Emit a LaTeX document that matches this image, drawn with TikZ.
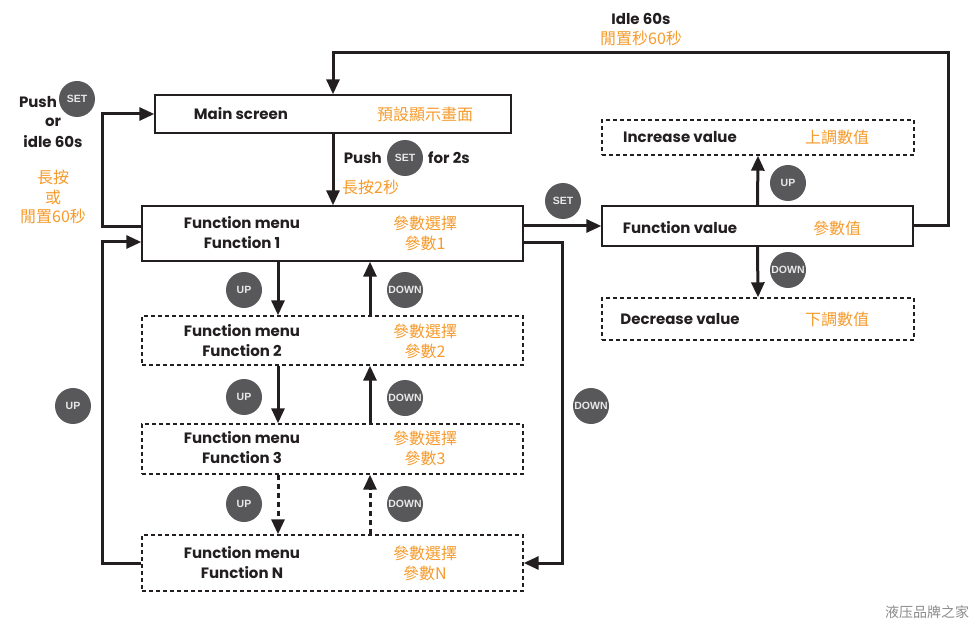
\documentclass[tikz,border=0pt]{standalone}
\usepackage{fontspec}
\setmainfont{Poppins}
\newfontfamily\cjk{Noto Sans CJK TC}
\newfontfamily\btnfont{Liberation Sans}
\usetikzlibrary{arrows.meta}
\definecolor{linec}{HTML}{231F20}
\definecolor{orangec}{HTML}{F59A2B}
\definecolor{btngray}{HTML}{58585A}
\definecolor{btntext}{HTML}{E8E8E8}
\begin{document}
\begin{tikzpicture}[x=1pt,y=-1pt,
  solidbox/.style={draw=linec, line width=1.4pt, inner sep=0pt},
  dashbox/.style={solidbox, dash pattern=on 4pt off 3pt},
  en/.style={font=\bfseries\fontsize{15}{20}\selectfont, text=linec, align=center, inner sep=0pt},
  zh/.style={font=\cjk\fontsize{16}{20}\selectfont, text=orangec, align=center, inner sep=0pt},
  arr/.style={draw=linec, line width=3pt, -{Triangle[length=15pt,width=13pt]}},
  darr/.style={arr, dash pattern=on 5pt off 4pt},
  btn/.style={circle, fill=btngray, text=btntext, minimum size=36pt, inner sep=0pt,
    font=\btnfont\bfseries\fontsize{10.5}{10.5}\selectfont},
  wm/.style={font=\cjk\fontsize{14}{14}\selectfont, text=black!45}
]
\useasboundingbox (0,0) rectangle (980,631);

% boxes
\node[solidbox, minimum width=356pt, minimum height=38pt] (main) at (333,114) {};
\node[solidbox, minimum width=381pt, minimum height=55pt] (f1) at (332.5,233.5) {};
\node[dashbox, minimum width=381pt, minimum height=49pt] (f2) at (332.5,340.5) {};
\node[dashbox, minimum width=381pt, minimum height=50pt] (f3) at (332.5,449) {};
\node[dashbox, minimum width=381pt, minimum height=56pt] (fn) at (332.5,563) {};
\node[solidbox, minimum width=311pt, minimum height=40pt] (fv) at (757.5,226) {};
\node[dashbox, minimum width=312pt, minimum height=35pt] (inc) at (758,137.5) {};
\node[dashbox, minimum width=312pt, minimum height=42pt] (dec) at (758,319) {};

% box texts
\node[en] (tmain) at (241,114) {Main screen};
\node[zh] (zmain) at (425,114) {預設顯示畫面};
\node[en] (tf1) at (242,233) {Function menu\\Function 1};
\node[zh] (zf1) at (425,233) {參數選擇\\參數1};
\node[en] (tf2) at (242,341) {Function menu\\Function 2};
\node[zh] (zf2) at (425,341) {參數選擇\\參數2};
\node[en] (tf3) at (242,448) {Function menu\\Function 3};
\node[zh] (zf3) at (425,448) {參數選擇\\參數3};
\node[en] (tfn) at (242,563) {Function menu\\Function N};
\node[zh] (zfn) at (425,563) {參數選擇\\參數N};
\node[en] (tfv) at (680,228) {Function value};
\node[zh] (zfv) at (837,228) {參數值};
\node[en] (tinc) at (680,137) {Increase value};
\node[zh] (zinc) at (837,137) {上調數值};
\node[en] (tdec) at (680,319) {Decrease value};
\node[zh] (zdec) at (837,319) {下調數值};

% helper coordinates
\coordinate (dcol) at (278,0);
\coordinate (ucol) at (370,0);
\coordinate (lx) at (102,0);
\coordinate (rx) at (562,0);
\coordinate (tr) at (948,53);
\coordinate (f1wa) at ([yshift=6.5pt]f1.west);
\coordinate (f1wb) at ([yshift=-8.5pt]f1.west);
\coordinate (f1eb) at ([yshift=-9.5pt]f1.east);

% vertical menu arrows
\draw[arr] (f1.south -| dcol) -- (f2.north -| dcol);
\draw[arr] (f2.north -| ucol) -- (f1.south -| ucol);
\draw[arr] (f2.south -| dcol) -- (f3.north -| dcol);
\draw[arr] (f3.north -| ucol) -- (f2.south -| ucol);
\draw[darr] (f3.south -| dcol) -- (fn.north -| dcol);
\draw[darr] (fn.north -| ucol) -- (f3.south -| ucol);

% main -> f1
\draw[arr] (main.south) -- (f1.north -| main.south);

% left loops
\draw[arr] (f1wa) -| (lx |- main.west) -- (main.west);
\draw[arr] (fn.west) -| (lx |- f1wb) -- (f1wb);

% right loop
\draw[arr] (f1eb) -| (rx |- fn.east) -- (fn.east);

% f1 -> fv
\draw[arr] (f1.east |- fv.west) -- (fv.west);

% fv up/down
\draw[arr] (fv.north) -- (inc.south);
\draw[arr] (fv.south) -- (dec.north);

% top loop
\draw[arr] (fv.east) -| (tr) -| (main.north);

% buttons
\node[btn] (bset1) at (77,99) {SET};
\node[btn] (bset2) at (405,158) {SET};
\node[btn] (bset3) at (563,201) {SET};
\node[btn] (bupv) at (788,183) {UP};
\node[btn] (bdnv) at (788,270) {DOWN};
\node[btn] (bup1) at (244,290) {UP};
\node[btn] (bup2) at (244,397) {UP};
\node[btn] (bup3) at (244,504) {UP};
\node[btn] (bdn1) at (405,290) {DOWN};
\node[btn] (bdn2) at (405,398) {DOWN};
\node[btn] (bdn3) at (405,504) {DOWN};
\node[btn] (bupl) at (73,406) {UP};
\node[btn] (bdnr) at (591,406) {DOWN};

% free texts
\node[en] (lpush) at (38,102) {Push};
\node[en] (lor) at (53,122) {or};
\node[en] (lidle) at (53,142) {idle 60s};
\node[zh] (lz1) at (53,177) {長按};
\node[zh] (lz2) at (53,197) {或};
\node[zh] (lz3) at (53,216) {閒置60秒};
\node[en, anchor=east] (mpush) at (382,158) {Push};
\node[en, anchor=west] (mfor) at (428,158) {for 2s};
\node[zh, anchor=west] (mz) at (342,187) {長按2秒};
\node[en] (tidle) at (641,19) {Idle 60s};
\node[zh] (zidle) at (641,38) {閒置秒60秒};

\node[wm] (wmark) at (927,612) {液压品牌之家};
\end{tikzpicture}
\end{document}
